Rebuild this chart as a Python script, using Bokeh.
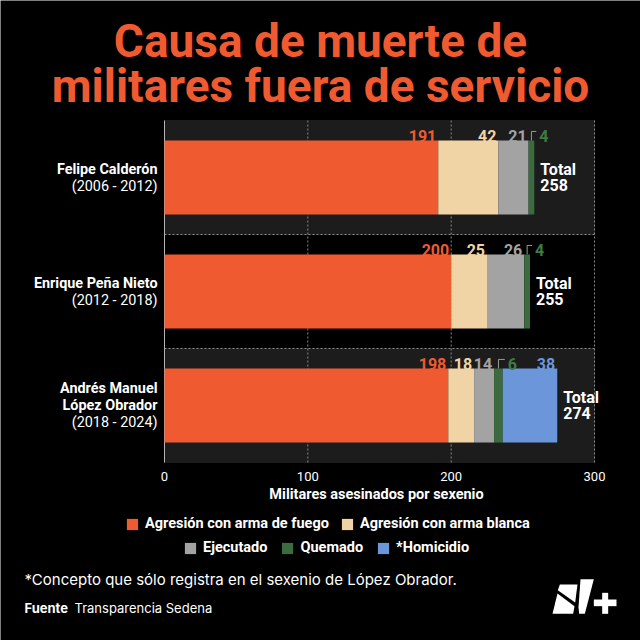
import numpy as np
from bokeh.plotting import figure
from bokeh.models import (Range1d, Label, ColumnDataSource, Legend, LegendItem, PolyAnnotation)
from bokeh.core.properties import value
from bokeh.embed import file_html
from bokeh.resources import INLINE

# ---------------- data ----------------
presidents = ["Felipe Calderón", "Enrique Peña Nieto", "Andrés Manuel\nLópez Obrador"]
periods = ["(2006 - 2012)", "(2012 - 2018)", "(2018 - 2024)"]
causes = ["Agresión con arma de fuego", "Agresión con arma blanca", "Ejecutado", "Quemado", "*Homicidio"]
fuego = [191, 200, 198]
blanca = [42, 25, 18]
ejecutado = [21, 26, 14]
quemado = [4, 4, 6]
homicidio = [0, 0, 38]
x_ticks = [0, 100, 200, 300]
title_lines = ["Causa de muerte de", "militares fuera de servicio"]
axis_title = "Militares asesinados por sexenio"
note = "*Concepto que sólo registra en el sexenio de López Obrador."
source_label = "Fuente"
source_text = "Transparencia Sedena"

# ---------------- styles ----------------
colors = ["#f05a30", "#f0d4a6", "#a3a3a3", "#3b6b3f", "#6b96d9"]
label_colors = ["#f05a30", "#f0d4a6", "#a3a3a3", "#3f7a45", "#6b96d9"]
FONT = "Roboto"
W, H = 640, 640
L, R, T, B = 164, 46, 120, 178          # chart area margins inside the canvas
n = len(presidents)
PXX = (W - L - R) / (x_ticks[-1] - x_ticks[0])   # px per unit (x)
PXY = (H - T - B) / n                             # px per band (y)

idx = np.arange(n)
data = np.array([fuego, blanca, ejecutado, quemado, homicidio], dtype=float)
cum = np.cumsum(data, axis=0)
lefts = cum - data
totals = cum[-1]
BAR_H = 0.65

p = figure(width=W, height=H,
           x_range=Range1d(x_ticks[0] - L / PXX, x_ticks[-1] + R / PXX),
           y_range=Range1d(n - 0.5 + B / PXY, -0.5 - T / PXY),
           x_axis_type=None, y_axis_type=None,
           output_backend="svg", toolbar_location=None,
           min_border_left=0, min_border_right=0, min_border_top=0, min_border_bottom=0,
           background_fill_color="black", border_fill_color="black", outline_line_color=None)
p.grid.visible = False

# band backgrounds
band_idx = idx[idx % 2 == 0]
p.hbar(y=band_idx, height=1, left=x_ticks[0], right=x_ticks[-1], color="#1c1c1c", level="image")

# grid lines / separators / axis line
ytop, ybot = -0.5, n - 0.5
p.segment(x0=x_ticks[1:], y0=ytop, x1=x_ticks[1:], y1=ybot, line_color="#8a8a8a",
          line_dash="2 2", line_width=1, level="underlay")
p.segment(x0=x_ticks[0], y0=idx[:-1] + 0.5, x1=x_ticks[-1], y1=idx[:-1] + 0.5, line_color="#8a8a8a",
          line_dash="2 2", line_width=1, level="underlay")
p.segment(x0=x_ticks[0], y0=ytop, x1=x_ticks[0], y1=ybot, line_color="#b5b5b5", line_width=1)

# bars
renderers = []
for k in range(len(causes)):
    r = p.hbar(y=idx, height=BAR_H, left=lefts[k], right=cum[k], color=colors[k], line_color=None)
    renderers.append(r)

# value labels
big = dict(x=[], y=[], t=[], c=[])
small = dict(x=[], y=[], t=[], c=[])
brk = dict(x0=[], y0=[], x1=[], y1=[])
for k in range(len(causes)):
    for i in range(n):
        v = data[k, i]
        if v <= 0:
            continue
        top = i - BAR_H / 2
        if v < 10:
            small["x"].append(cum[k, i]); small["y"].append(top - 4 / PXY)
            small["t"].append(str(int(v))); small["c"].append(label_colors[k])
            mid = lefts[k, i] + v / 2
            brk["x0"] += [mid, mid]; brk["y0"] += [top, top - 9 / PXY]
            brk["x1"] += [mid, cum[k, i] + 2 / PXX]; brk["y1"] += [top - 9 / PXY, top - 9 / PXY]
        else:
            big["x"].append(cum[k, i]); big["y"].append(top - 4 / PXY)
            big["t"].append(str(int(v))); big["c"].append(label_colors[k])

p.segment(x0="x0", y0="y0", x1="x1", y1="y1", source=ColumnDataSource(brk), line_color="#9a9a9a", line_width=1)
p.text(x="x", y="y", text="t", text_color="c", source=ColumnDataSource(big), text_align="right",
       text_baseline="alphabetic", x_offset=-2, text_font=value(FONT), text_font_style="bold",
       text_font_size="16px")
p.text(x="x", y="y", text="t", text_color="c", source=ColumnDataSource(small), text_align="left",
       text_baseline="alphabetic", x_offset=5, text_font=value(FONT), text_font_style="bold",
       text_font_size="16px")

# totals
p.text(x=totals, y=idx, text=["Total\n%d" % t for t in totals], x_offset=6, text_align="left",
       text_baseline="middle", text_color="white", text_font=value(FONT), text_font_style="bold",
       text_font_size="16px", text_line_height=0.81)

# category labels (left)
LINE = 17
name_lines = np.array([s.count("\n") + 1 for s in presidents])
split = idx + (name_lines - 1) * 0.5 * LINE / PXY
ysrc = ColumnDataSource(dict(x=np.zeros(n), y=split, name=presidents, period=periods))
p.text(x="x", y="y", text="name", source=ysrc, x_offset=-7, text_align="right",
       text_baseline="bottom", text_color="white", text_font=value(FONT), text_font_style="bold",
       text_font_size="14.4px", text_line_height=1.02)
p.text(x="x", y="y", text="period", source=ysrc, x_offset=-7, text_align="right",
       text_baseline="top", text_color="white", text_font=value(FONT), text_font_style="normal",
       text_font_size="14.4px", text_line_height=1.02)

# x axis tick labels and title
p.text(x=x_ticks, y=[ybot + 14 / PXY] * len(x_ticks), text=[str(t) for t in x_ticks],
       text_align="center", text_baseline="middle", text_color="white", text_font=value(FONT),
       text_font_size="13px")
p.text(x=[(x_ticks[0] + x_ticks[-1]) / 2], y=[ybot + 32 / PXY], text=[axis_title],
       text_align="center", text_baseline="middle", x_offset=-3, text_color="white",
       text_font=value(FONT), text_font_style="bold", text_font_size="14.5px")

# legends
def make_legend(ks, loc, spacing):
    lg = Legend(items=[LegendItem(label=causes[k], renderers=[renderers[k]]) for k in ks],
                location=loc, orientation="horizontal", padding=0, margin=0, spacing=spacing,
                glyph_width=14, glyph_height=14, label_height=14, label_standoff=6,
                label_text_color="white", label_text_font=FONT, label_text_font_style="bold",
                label_text_font_size="14.5px", label_text_baseline="middle",
                background_fill_alpha=0, border_line_color=None)
    p.add_layout(lg)

make_legend([0, 1], (125, H - 532), 11)
make_legend([2, 3, 4], (183, H - 556), 13)

# title
for line, base in zip(title_lines, [40, 85]):
    p.add_layout(Label(x=W / 2, y=H - base, text=line, x_units="screen", y_units="screen",
                       text_align="center", text_baseline="alphabetic", text_color="#f05a30",
                       text_font=FONT, text_font_style="bold", text_font_size="46px"))

# footer
p.add_layout(Label(x=24, y=H - 588, text=note, x_units="screen", y_units="screen",
                   text_color="white", text_font="Inter", text_font_size="15px"))
p.add_layout(Label(x=24, y=H - 615, text=source_label, x_units="screen", y_units="screen",
                   text_color="white", text_font="Inter", text_font_style="bold", text_font_size="13px"))
p.add_layout(Label(x=74, y=H - 615, text=source_text, x_units="screen", y_units="screen",
                   text_color="white", text_font="Inter", text_font_size="13px"))

# logo (decoration)
logo_shapes = [
    [(88, 72), (141, 72), (134, 126), (82, 89)],
    [(81, 99), (66, 160), (128, 160), (132, 137)],
    [(150, 56), (190, 56), (163, 160), (146, 160), (144, 140)],
    [(215, 97), (233, 97), (233, 160), (215, 160)],
    [(190, 117), (258, 117), (258, 137), (190, 137)],
]
for shp in logo_shapes:
    xs = [530 + a / 3 for a, b in shp]
    ys = [H - (560 + b / 3) for a, b in shp]
    p.add_layout(PolyAnnotation(xs=xs, ys=ys, xs_units="screen", ys_units="screen",
                                fill_color="white", fill_alpha=1, line_color=None))

open("out.html", "w").write(file_html(p, INLINE))
